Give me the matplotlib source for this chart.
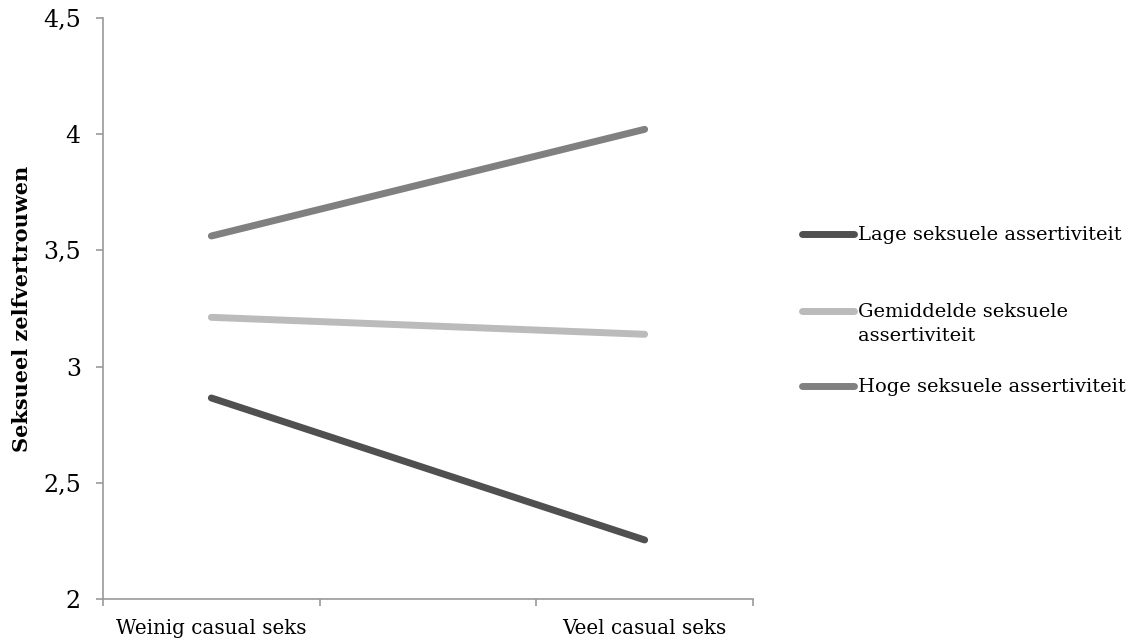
import matplotlib
matplotlib.use('Agg')
import matplotlib.pyplot as plt
from matplotlib.lines import Line2D
from matplotlib.ticker import FuncFormatter

# data
categories = ['Weinig casual seks', 'Veel casual seks']
series_names = ['Lage seksuele assertiviteit',
                'Gemiddelde seksuele\nassertiviteit',
                'Hoge seksuele assertiviteit']
lage = [2.865, 2.254]
gemiddeld = [3.212, 3.139]
hoge = [3.562, 4.021]
colors = ['#505050', '#bbbbbb', '#808080']

plt.rcParams['font.family'] = ['DejaVu Serif']

W, H = 1141, 643
fig = plt.figure(figsize=(W / 100, H / 100), dpi=100)
ax = fig.add_axes([103 / W, 44 / H, 650 / W, 581 / H])

xpos = [0, 2]
for vals, name, c in zip([lage, gemiddeld, hoge], series_names, colors):
    ax.plot(xpos, vals, color=c, lw=5, solid_capstyle='round', label=name)

ax.set_xlim(-0.5, 2.5)
ax.set_ylim(2, 4.5)
ax.set_yticks([2, 2.5, 3, 3.5, 4, 4.5])
ax.yaxis.set_major_formatter(FuncFormatter(lambda v, p: ('%g' % v).replace('.', ',')))
ax.set_xticks([-0.5, 0.5, 1.5, 2.5])
ax.set_xticklabels([])
for x, lab in zip(xpos, categories):
    ax.text(x, -0.035, lab, transform=ax.get_xaxis_transform(), ha='center', va='top', fontsize=14.3)

for s in ['top', 'right']:
    ax.spines[s].set_visible(False)
for s in ['left', 'bottom']:
    ax.spines[s].set_color('#999999')
    ax.spines[s].set_linewidth(1.2)
ax.tick_params(axis='both', colors='#999999', length=5, width=1.2, labelsize=17, labelcolor='black')
ax.tick_params(axis='y', pad=11)

ax.set_ylabel('Seksueel zelfvertrouwen', fontsize=15, fontweight='bold', labelpad=8)

# legend laid out like the Excel one: key at the first text line
legend_rows = [234, 311, 386]
for y, name, c in zip(legend_rows, series_names, colors):
    yf = 1 - y / H
    fig.add_artist(Line2D([802 / W, 854 / W], [yf, yf], color=c, lw=5, solid_capstyle='round'))
    fig.text(858 / W, 1 - (y - 8) / H, name, ha='left', va='top', fontsize=14, linespacing=1.45)

fig.savefig('out.png', dpi=100)
